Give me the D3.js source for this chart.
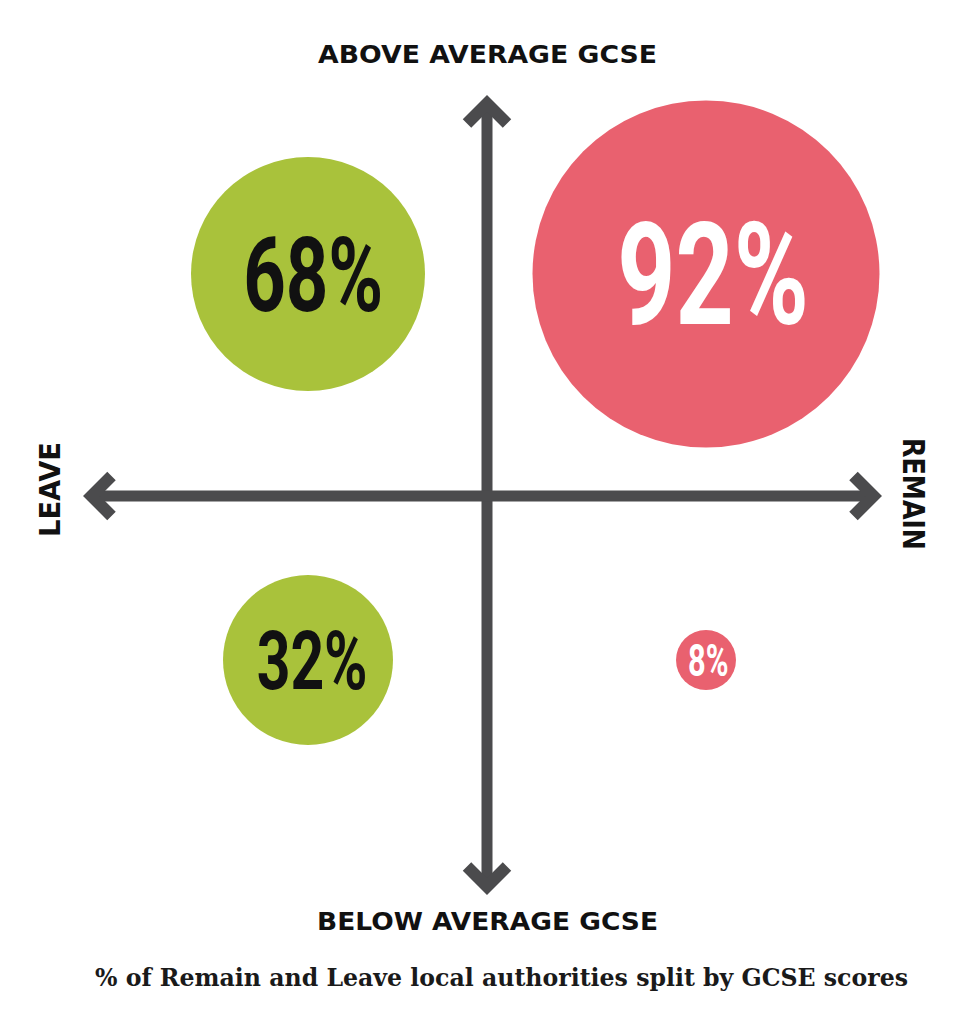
<!DOCTYPE html>
<html>
<head>
<meta charset="utf-8">
<script src="https://cdn.jsdelivr.net/npm/d3@7/dist/d3.min.js"></script>
<style>
  html, body { margin: 0; padding: 0; background: #ffffff; }
  svg { display: block; }
</style>
</head>
<body>
<svg id="chart" width="970" height="1024"></svg>
<script>
// ---- data ----
const sides = ["Leave", "Remain"];                       // horizontal axis categories
const gcseLevels = ["Above average", "Below average"];   // vertical axis categories
const pointSide = ["Leave", "Leave", "Remain", "Remain"];
const pointGcse = ["Above average", "Below average", "Above average", "Below average"];
const pointShare = [68, 32, 92, 8];                      // % of local authorities
const axisLabels = ["ABOVE AVERAGE GCSE", "BELOW AVERAGE GCSE", "LEAVE", "REMAIN"];
const caption = "% of Remain and Leave local authorities split by GCSE scores";

// ---- styles / layout ----
const colors = { Leave: "#a9c23b", Remain: "#e9616f" };
const textColors = { Leave: "#111111", Remain: "#ffffff" };
const axisColor = "#4b4b4d";

const svg = d3.select("#chart");

const x = d3.scalePoint().domain(sides).range([308, 706]);
const y = d3.scalePoint().domain(gcseLevels).range([274, 660]);
const r = d3.scaleLinear().domain([8, 32, 68, 92]).range([30, 85, 117, 173.5]);

const data = pointShare.map((v, i) => ({ side: pointSide[i], gcse: pointGcse[i], value: v }));

// ---- axes (arrows) ----
const cx0 = 487, cy0 = 496;
const axTop = 103.5, axBottom = 886.5, axLeft = 91.5, axRight = 873.5;
const sw = 11, wing = 20;

const g = svg.append("g");
g.append("line").attr("x1", cx0).attr("x2", cx0).attr("y1", axTop).attr("y2", axBottom)
  .attr("stroke", axisColor).attr("stroke-width", sw);
g.append("line").attr("x1", axLeft).attr("x2", axRight).attr("y1", cy0).attr("y2", cy0)
  .attr("stroke", axisColor).attr("stroke-width", sw);

const heads = [
  [[cx0 - wing, axTop + wing], [cx0, axTop], [cx0 + wing, axTop + wing]],
  [[cx0 - wing, axBottom - wing], [cx0, axBottom], [cx0 + wing, axBottom - wing]],
  [[axLeft + wing, cy0 - wing], [axLeft, cy0], [axLeft + wing, cy0 + wing]],
  [[axRight - wing, cy0 - wing], [axRight, cy0], [axRight - wing, cy0 + wing]]
];
g.selectAll("path.head").data(heads).join("path")
  .attr("class", "head")
  .attr("d", d => d3.line()(d))
  .attr("fill", "none")
  .attr("stroke", axisColor)
  .attr("stroke-width", sw + 1)
  .attr("stroke-linejoin", "miter")
  .attr("stroke-linecap", "butt");

// ---- axis labels ----
const labFont = "'DejaVu Sans', 'Liberation Sans', sans-serif";
svg.append("text").text(axisLabels[0])
  .attr("x", 487.5).attr("y", 63).attr("text-anchor", "middle")
  .attr("font-family", labFont).attr("font-weight", "bold").attr("font-size", 25)
  .attr("textLength", 339).attr("lengthAdjust", "spacingAndGlyphs").attr("fill", "#111");
svg.append("text").text(axisLabels[1])
  .attr("x", 487.5).attr("y", 930).attr("text-anchor", "middle")
  .attr("font-family", labFont).attr("font-weight", "bold").attr("font-size", 25)
  .attr("textLength", 341).attr("lengthAdjust", "spacingAndGlyphs").attr("fill", "#111");
svg.append("text").text(axisLabels[2])
  .attr("transform", "translate(60,489.5) rotate(-90)").attr("text-anchor", "middle")
  .attr("font-family", labFont).attr("font-weight", "bold").attr("font-size", 29)
  .attr("textLength", 95).attr("lengthAdjust", "spacingAndGlyphs").attr("fill", "#111");
svg.append("text").text(axisLabels[3])
  .attr("transform", "translate(903,494) rotate(90)").attr("text-anchor", "middle")
  .attr("font-family", labFont).attr("font-weight", "bold").attr("font-size", 30)
  .attr("textLength", 112).attr("lengthAdjust", "spacingAndGlyphs").attr("fill", "#111");

// ---- bubbles ----
const bubbles = svg.selectAll("g.bubble").data(data).join("g")
  .attr("class", "bubble")
  .attr("transform", d => `translate(${x(d.side)},${y(d.gcse)})`);

bubbles.append("circle")
  .attr("r", d => r(d.value))
  .attr("fill", d => colors[d.side]);

const fontSize = d => 24.7 + 0.676 * r(d.value);
bubbles.append("text")
  .text(d => d.value + "%")
  .attr("text-anchor", "middle")
  .attr("x", d => 0.05 * fontSize(d))
  .attr("y", d => 0.355 * fontSize(d))
  .attr("font-family", "Roboto, 'Liberation Sans', sans-serif")
  .attr("font-weight", "bold")
  .attr("font-size", fontSize)
  .attr("textLength", d => fontSize(d) * 0.45 * String(d.value + "%").length)
  .attr("lengthAdjust", "spacingAndGlyphs")
  .attr("fill", d => textColors[d.side]);

// ---- caption ----
svg.append("text").text(caption)
  .attr("x", 501.5).attr("y", 986).attr("text-anchor", "middle")
  .attr("font-family", "'DejaVu Serif', serif").attr("font-weight", "bold").attr("font-size", 24)
  .attr("textLength", 813).attr("lengthAdjust", "spacingAndGlyphs")
  .attr("fill", "#1a1a1a");
</script>
</body>
</html>
